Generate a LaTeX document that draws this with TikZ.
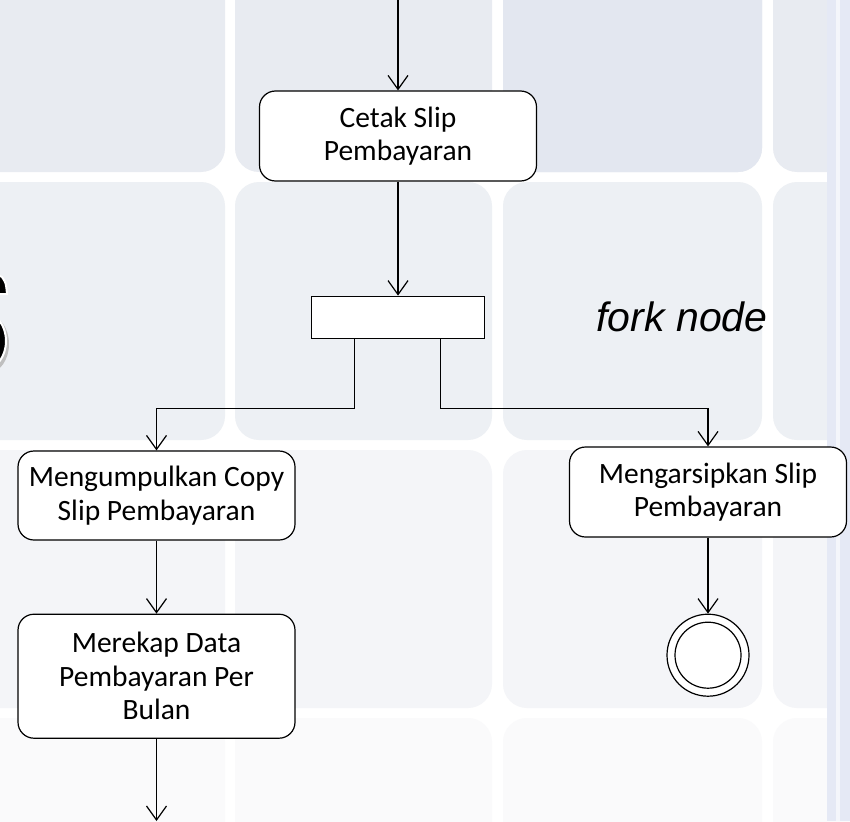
\documentclass[tikz,border=0pt]{standalone}
\usepackage{fontspec}
\setmainfont{Carlito}
\newfontfamily\labelfont{Liberation Sans}
\usepackage{tikz}
\usetikzlibrary{arrows.meta,positioning,calc}
\definecolor{tileA}{HTML}{E8EBF1}
\definecolor{tileB}{HTML}{EDF0F4}
\definecolor{tileC}{HTML}{F4F5F8}
\definecolor{tileD}{HTML}{FAFAFB}
\definecolor{tileE}{HTML}{E3E7F0}
\definecolor{stripe}{HTML}{E5E9F5}
\tikzset{
  act/.style={draw, rounded corners=16pt, align=center, fill=white, line width=1.2pt,
    font=\fontsize{29.5}{33.5}\selectfont, minimum width=277pt, inner sep=0pt},
  forkbar/.style={draw, fill=white, line width=1.2pt, minimum width=173pt, minimum height=42pt, inner sep=0pt},
  flow/.style={-{Straight Barb[length=14pt,width=20pt,line width=1.2pt]}, line width=1.2pt},
  endnode/.style={circle, draw, fill=white, line width=1.2pt, minimum size=82pt, inner sep=0pt},
  tile/.style={rounded corners=24pt},
}

\begin{document}
\begin{tikzpicture}[x=1pt,y=1pt]
  \useasboundingbox (0,0) rectangle (850,-821);
  \fill[white] (0,0) rectangle (850,-821);
  % background tiles
  \foreach \x/\w in {-40/225, 235/492, 503/762, 773/1030} {
    \fill[tile, tileA] (\x,90) rectangle (\w,-172);
    \fill[tile, tileB] (\x,-182) rectangle (\w,-440);
    \fill[tile, tileC] (\x,-450) rectangle (\w,-708);
    \fill[tile, tileD] (\x,-718) rectangle (\w,-976);
  }
  \fill[tile, tileE] (503,90) rectangle (762,-172);
  \fill[stripe] (827,0) rectangle (850,-821);
  \fill[white, opacity=0.6] (836,0) rectangle (840,-821);
  % cut-off glyph on the left edge
  \fill[gray!50] (-12,-344) ellipse (21 and 29);
  \filldraw[fill=black, draw=white, line width=2pt] (-15,-341) ellipse (21 and 28);
  \filldraw[fill=black, draw=white, line width=2pt] (-4,-274) -- (2,-277) .. controls (6,-283) .. (7,-294) -- (-4,-294) -- cycle;

  \coordinate (start) at (398,0);
  \node[act, minimum height=90pt] (cetak) at (398,-136) {Cetak Slip\\Pembayaran};
  \node[forkbar, below=114pt of cetak] (fork) {};
  \node[font=\labelfont\itshape\fontsize{41}{41}\selectfont, anchor=base] (forklbl) at (682,-331) {fork node};
  \node[act, minimum height=89pt] (kumpul) at (156.5,-495.5) {Mengumpulkan Copy\\Slip Pembayaran};
  \node[act, minimum height=124pt, below=73pt of kumpul] (rekap) {Merekap Data\\Pembayaran Per\\Bulan};
  \node[act, minimum height=90pt] (arsip) at (708,-492) {Mengarsipkan Slip\\Pembayaran};
  \node[endnode, below=76pt of arsip] (final) {};
  \node[circle, draw, line width=1.2pt, minimum size=66pt] (finalin) at (final) {};
  \coordinate (stop) at (156.5,-821);

  \draw[flow] (start) -- (cetak);
  \draw[flow] (cetak) -- (fork);
  \draw[flow] ([xshift=-43.5pt]fork.south) -- ++(0,-70) -| (kumpul.north);
  \draw[flow] ([xshift=42.5pt]fork.south) -- ++(0,-70) -| (arsip.north);
  \draw[flow] (kumpul) -- (rekap);
  \draw[flow] (rekap) -- (stop);
  \draw[flow] (arsip) -- (final);
\end{tikzpicture}
\end{document}
